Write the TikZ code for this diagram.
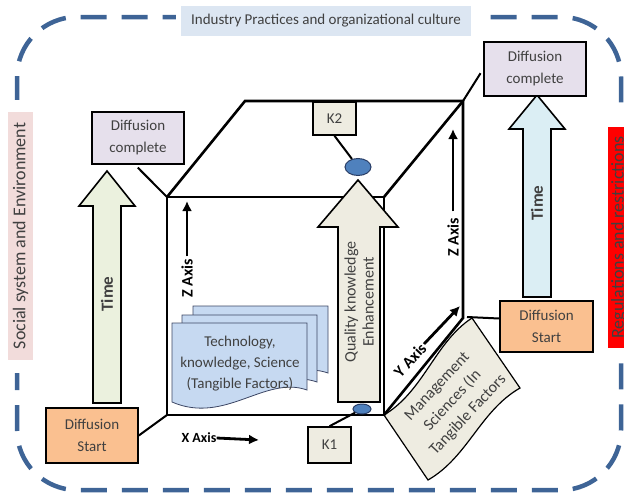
\documentclass[tikz,border=0pt]{standalone}
\usepackage{fontspec}
\setmainfont{Carlito}
\usetikzlibrary{arrows.meta,calc,shapes.geometric}
\definecolor{dashblue}{RGB}{62,100,150}
\definecolor{txt}{RGB}{64,64,64}
\definecolor{toplab}{RGB}{220,230,242}
\definecolor{pinklab}{RGB}{242,220,219}
\definecolor{lav}{RGB}{230,224,236}
\definecolor{orng}{RGB}{250,192,144}
\definecolor{pgreen}{RGB}{235,241,222}
\definecolor{pblue}{RGB}{219,238,244}
\definecolor{beige}{RGB}{238,236,225}
\definecolor{docblue}{RGB}{198,217,241}
\definecolor{docedge}{RGB}{60,70,100}
\definecolor{ellblue}{RGB}{79,129,189}
\definecolor{elledge}{RGB}{40,60,100}
\begin{document}
\begin{tikzpicture}[x=1pt,y=-1pt,
  every node/.style={inner sep=0pt, text=txt},
  box/.style={draw=black, line width=1.6pt, align=center, font=\fontsize{15}{22}\selectfont},
  arrowshape/.style={draw=black, line width=1.6pt, line join=miter},
  cube/.style={draw=black, line width=2.6pt},
  axis/.style={draw=black, line width=2.8pt, -{Latex[length=10pt,width=10pt]}},
  axislabel/.style={font=\fontsize{16}{18}\selectfont\bfseries, text=black},
  doc/.style={fill=docblue, draw=docedge, line width=0.8pt},
  conn/.style={draw=black, line width=2pt},
]
\useasboundingbox (0,0) rectangle (624,493);

% outer dashed frame
\draw[dashblue, line width=4.5pt, dash pattern=on 26pt off 15pt, rounded corners=60pt] (17,17) rectangle (621,490);
\fill[white] (176,0) rectangle (476,40);
\fill[white] (0,100) rectangle (40,373);
\fill[white] (600,113) rectangle (624,362);

% frame labels
\node[fill=toplab, minimum width=290pt, minimum height=30pt, font=\fontsize{15}{18}\selectfont] (ind) at (326,21) {Industry Practices and organizational culture};
\node[fill=pinklab, rotate=90, minimum width=248pt, minimum height=25pt, font=\fontsize{18}{20}\selectfont] (soc) at (20.5,236) {Social system and Environment};
\node[fill=red, rotate=90, minimum width=221pt, minimum height=22pt, font=\fontsize{18}{20}\selectfont] (reg) at (619,237.5) {Regulations and restrictions};

% cube
\coordinate (ftl) at (167,197);
\coordinate (ftr) at (384,197);
\coordinate (fbl) at (167,415);
\coordinate (fbr) at (384,415);
\coordinate (btl) at (245,101);
\coordinate (btr) at (463,101);
\coordinate (bbr) at (463,318);

% management shape
\draw[fill=beige, draw=black, line width=1.2pt] (fbr) .. controls (424,391) and (435,342) .. (472,318) -- (520,388) .. controls (480,411) and (468,457) .. (428,480) -- cycle;
\node[rotate=47, align=center, font=\fontsize{16}{21}\selectfont] (mgmt) at (453,401) {Management\\Sciences (In\\Tangible Factors};

\draw[cube, line join=miter] (ftl) rectangle (fbr);
\draw[cube, line join=miter] (ftl) -- (btl) -- (btr) -- (bbr) -- (fbr);
\draw[cube] (ftr) -- (btr);

% documents
\foreach \dx/\dy in {21/-17, 10/-8, 0/0} {
  \draw[doc, shift={(\dx,\dy)}] (172,323) -- (307,323) -- (307,390) .. controls (265,375) and (225,425) .. (172,402) -- cycle;
}
\node[align=center, font=\fontsize{15}{21}\selectfont] (tech) at (240,364) {Technology,\\knowledge, Science\\(Tangible Factors)};

% time arrows
\draw[arrowshape, fill=pgreen] (93,403) -- (93,206) -- (79,206) -- (107,171) -- (135,206) -- (121,206) -- (121,403) -- cycle;
\node[rotate=90, font=\fontsize{17}{20}\selectfont\bfseries] (time1) at (107,294) {Time};
\draw[arrowshape, fill=pblue] (523,297) -- (523,129) -- (509,129) -- (537,95) -- (565,129) -- (551,129) -- (551,297) -- cycle;
\node[rotate=90, font=\fontsize{17}{20}\selectfont\bfseries] (time2) at (537,203) {Time};

% quality knowledge arrow
\draw[arrowshape, fill=beige] (338,402) -- (338,227) -- (318,227) -- (358,180) -- (398,227) -- (380,227) -- (380,402) -- cycle;
\node[rotate=90, align=center, font=\fontsize{16}{18}\selectfont] (qke) at (359,302) {Quality knowledge\\Enhancement};

% ellipses
\node[ellipse, fill=ellblue, draw=elledge, line width=1pt, minimum width=26pt, minimum height=17pt] (e2) at (358,167) {};
\node[ellipse, fill=ellblue, draw=elledge, line width=1pt, minimum width=18pt, minimum height=10pt] (e1) at (362,409) {};

% boxes
\node[box, fill=beige, minimum width=43pt, minimum height=33pt] (k2) at (334.5,118.5) {K2};
\node[box, fill=beige, minimum width=43pt, minimum height=36pt] (k1) at (329.5,445) {K1};
\node[box, fill=lav, minimum width=92pt, minimum height=52pt] (dc1) at (138,138) {Diffusion\\complete};
\node[box, fill=lav, minimum width=102pt, minimum height=54pt] (dc2) at (535,69) {Diffusion\\complete};
\node[box, fill=orng, minimum width=92pt, minimum height=55pt] (ds1) at (92,435.5) {Diffusion\\Start};
\node[box, fill=orng, minimum width=93pt, minimum height=51pt] (ds2) at (546.5,326.5) {Diffusion\\Start};

% connectors
\draw[conn] (k2.south) -- (e2);
\draw[conn] (k1.north) -- (e1);
\draw[conn] (ds1.east) -- (fbl);
\draw[conn] ($(bbr)+(4,-1)$) -- ($(ds2.west)+(0,-8)$);
\draw[conn, shorten >=4pt] (ftl) -- ($(dc1.south)+(-3,0)$);
\draw[conn, shorten >=5pt] (btr) -- (dc2.west);

% axes
\node[axislabel, rotate=90] (zl1) at (187,278) {Z Axis};
\coordinate (zt1) at (187,201);
\draw[axis] ($(zl1.east)+(0,-2)$) -- (zt1);
\node[axislabel, rotate=90] (zl2) at (453,237) {Z Axis};
\coordinate (zt2) at (453,129);
\draw[axis] ($(zl2.east)+(0,-6)$) -- (zt2);
\node[axislabel, font=\fontsize{14}{16}\selectfont\bfseries] (xl) at (199,438) {X Axis};
\coordinate (xt) at (259,440);
\draw[axis] (xl.east) -- (xt);
\node[axislabel, rotate=47] (yl) at (410,360) {Y Axis};
\coordinate (ys) at (424,344);
\coordinate (yt) at (460,306);
\draw[axis] (ys) -- (yt);
\end{tikzpicture}
\end{document}
